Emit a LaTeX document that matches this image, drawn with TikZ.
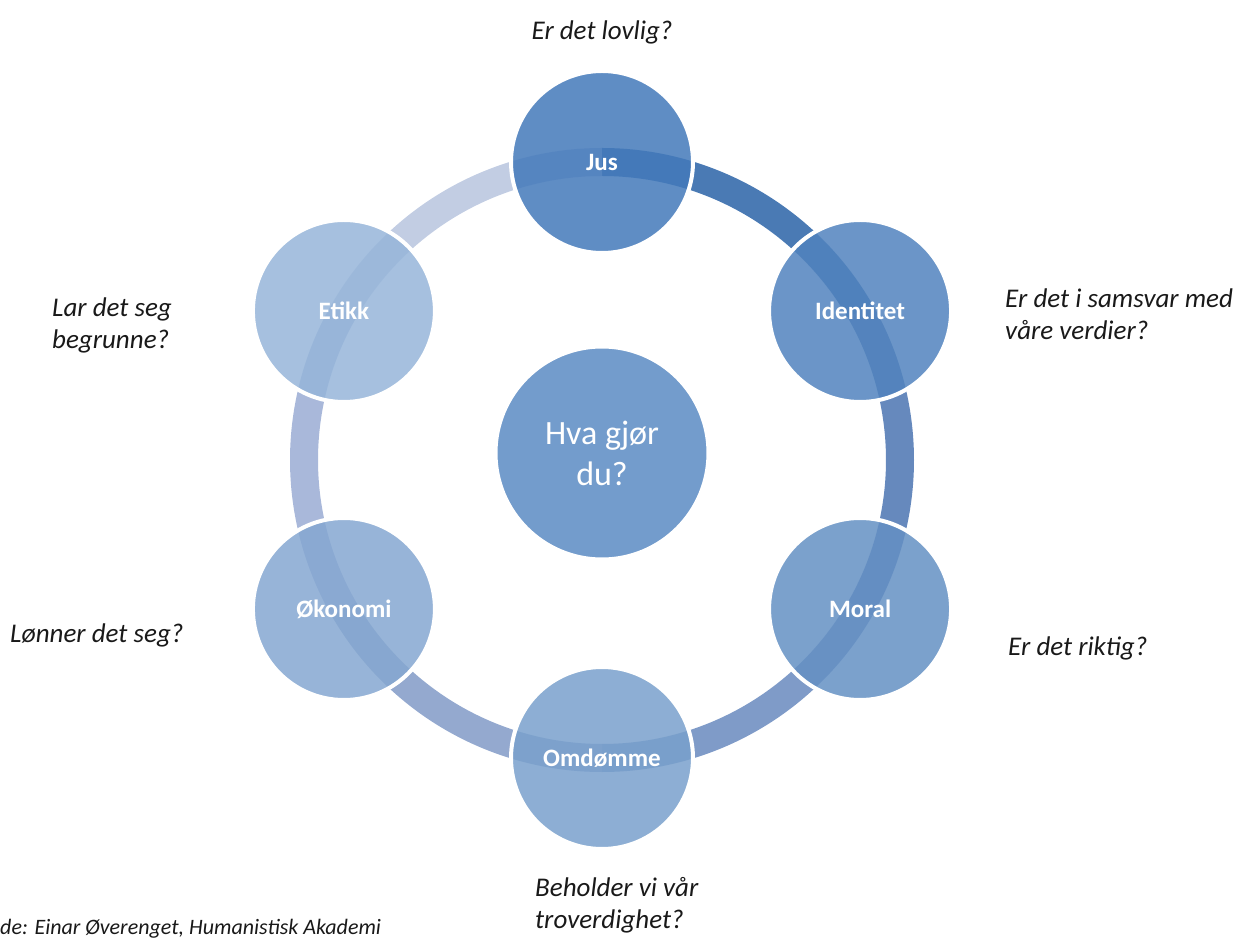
\documentclass[tikz,border=0pt]{standalone}
\usepackage{fontspec}
\setmainfont{Carlito}
\usetikzlibrary{backgrounds}
\definecolor{jusc}{HTML}{4379BA}
\definecolor{idc}{HTML}{5183BE}
\definecolor{moralc}{HTML}{6490C3}
\definecolor{omdc}{HTML}{79A0CC}
\definecolor{okoc}{HTML}{85A7D1}
\definecolor{etikkc}{HTML}{96B5D9}
\definecolor{midc}{HTML}{739CCC}
\definecolor{segA}{HTML}{4A7AB4}
\definecolor{segB}{HTML}{6689BD}
\definecolor{segC}{HTML}{7F9BC8}
\definecolor{segD}{HTML}{94A9CF}
\definecolor{segE}{HTML}{A9B8DA}
\definecolor{segF}{HTML}{C2CDE3}
\colorlet{qtext}{black!90}

\begin{document}
\begin{tikzpicture}[x=1pt,y=1pt,
    ball/.style={circle,minimum size=182pt,inner sep=0pt,fill opacity=0.85,text opacity=1,
      draw=white,line width=4pt,text=white,font=\bfseries\fontsize{25}{30}\selectfont},
    seg/.style={line width=28pt},
    ask/.style={font=\itshape\fontsize{27}{32}\selectfont,align=left,text=qtext,inner sep=0pt}]
            \useasboundingbox (-602,-481) rectangle (644,460);

            \node[circle,minimum size=212pt,inner sep=0pt,fill=midc,draw=white,line width=3pt,
                text=white,align=center,font=\fontsize{34}{41}\selectfont] (mid) at (0,7) {Hva gjør\\du?};

            \node[ball,fill=jusc] (jus) at (90:298) {Jus};
            \node[ball,fill=idc] (identitet) at (30:298) {Identitet};
            \node[ball,fill=moralc] (moral) at (-30:298) {Moral};
            \node[ball,fill=omdc] (omdomme) at (-90:298) {Omdømme};
            \node[ball,fill=okoc] (okonomi) at (-150:298) {Økonomi};
            \node[ball,fill=etikkc] (etikk) at (150:298) {Etikk};

            % ringen bak sirklene
            \begin{pgfonlayer}{background}
            \foreach \n/\a/\c in {jus/90/segA,identitet/30/segB,moral/-30/segC,
                omdomme/-90/segD,okonomi/-150/segE,etikk/150/segF} {
                \draw[seg,\c] (\n.center) arc[start angle=\a,end angle=\a-60,radius=298];
            }
            \end{pgfonlayer}

            \node[ask,anchor=center] (qjus) at (0,428) {Er det lovlig?};
            \node[ask,anchor=west] (qid) at (403,146) {Er det i samsvar med\\våre verdier?};
            \node[ask,anchor=west] (qmoral) at (406,-188) {Er det riktig?};
            \node[ask,anchor=west] (qomd) at (-67,-445) {Beholder vi vår\\troverdighet?};
            \node[ask,anchor=west] (qoko) at (-592,-175) {Lønner det seg?};
            \node[ask,anchor=west] (qetikk) at (-550,135) {Lar det seg\\begrunne?};
            \node[ask,anchor=base west,font=\itshape\fontsize{22}{26}\selectfont] (kilde) at (-602,-474) {de: Einar Øverenget, Humanistisk Akademi};
        \end{tikzpicture}
\end{document}
